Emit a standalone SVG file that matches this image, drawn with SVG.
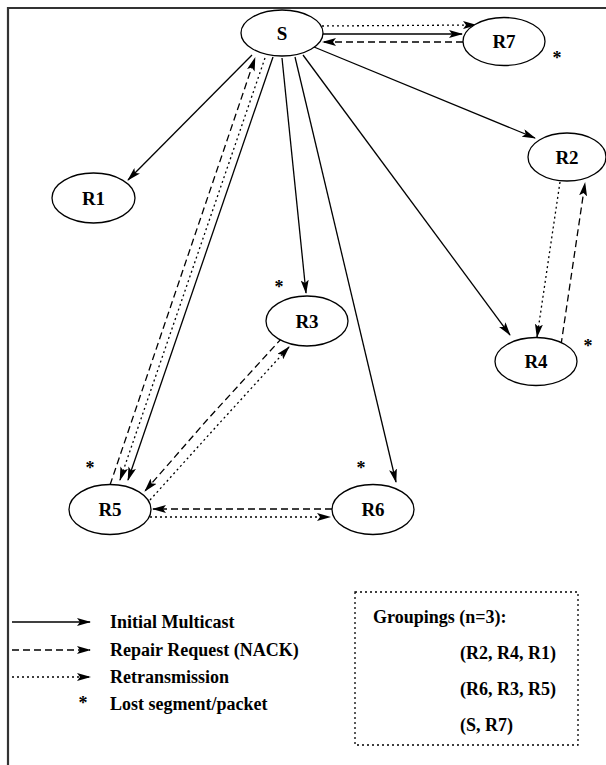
<svg xmlns="http://www.w3.org/2000/svg" width="606" height="765" viewBox="0 0 606 765">
<defs>
<marker id="ah" viewBox="0 0 14 8" refX="13" refY="4" markerWidth="14" markerHeight="8" markerUnits="userSpaceOnUse" orient="auto">
<path d="M0,0 L14,4 L0,8 L3,4 z" fill="#000"/>
</marker>
<style>
.nd{fill:#fff;stroke:#000;stroke-width:1.3}
.lb{font-family:'Liberation Serif','Times New Roman',serif;font-weight:bold;font-size:19px;text-anchor:middle;fill:#000}
.tx{font-family:'Liberation Serif','Times New Roman',serif;font-weight:bold;font-size:18px;fill:#000}
.st{font-family:'Liberation Serif','Times New Roman',serif;font-weight:bold;font-size:18px;fill:#000;text-anchor:middle}
.e{fill:none;stroke:#000;stroke-width:1.3}
.so{marker-end:url(#ah)}
.da{stroke-dasharray:7,4}
.dt{stroke-dasharray:2,3}
</style>
</defs>
<rect width="606" height="765" fill="#fff"/>
<g id="frame">
<path d="M606,8 H8 V765" fill="none" stroke="#333" stroke-width="2.2"/>
</g>
<g id="connectors">
<line class="e so" x1="323" y1="34" x2="462" y2="34"/>
<line class="e dt so" x1="322" y1="26" x2="476" y2="25"/>
<line class="e da so" x1="463" y1="42" x2="323" y2="42"/>
<line class="e so" x1="252" y1="55" x2="128" y2="180"/>
<line class="e so" x1="314" y1="47" x2="535" y2="138"/>
<line class="e so" x1="303" y1="55" x2="510" y2="335"/>
<line class="e so" x1="282" y1="58" x2="306" y2="293"/>
<line class="e so" x1="295" y1="57" x2="396" y2="482"/>
<line class="e so" x1="273" y1="57" x2="128" y2="480"/>
<line class="e da so" x1="110" y1="485" x2="255" y2="58"/>
<line class="e dt so" x1="265" y1="58" x2="120" y2="480"/>
<path class="e da so" d="M282,338 L207,420 L145,491"/>
<path class="e dt so" d="M150,500 L215,428 L289,347"/>
<line class="e da so" x1="332" y1="509" x2="153" y2="509"/>
<line class="e dt so" x1="150" y1="517" x2="330" y2="517"/>
<line class="e dt so" x1="560" y1="182" x2="537" y2="337"/>
<line class="e da so" x1="561" y1="345" x2="585" y2="183"/>
</g>
<g id="S"><ellipse class="nd" cx="282" cy="33" rx="41" ry="23"/><text class="lb" x="282" y="40">S</text></g>
<g id="R7"><ellipse class="nd" cx="504" cy="41.5" rx="41" ry="24"/><text class="lb" x="504" y="48">R7</text></g>
<g id="R1"><ellipse class="nd" cx="93.5" cy="198" rx="41.5" ry="25"/><text class="lb" x="93.5" y="205">R1</text></g>
<g id="R2"><ellipse class="nd" cx="567" cy="157" rx="39" ry="24"/><text class="lb" x="567" y="164">R2</text></g>
<g id="R3"><ellipse class="nd" cx="307" cy="321" rx="41" ry="25"/><text class="lb" x="307" y="328">R3</text></g>
<g id="R4"><ellipse class="nd" cx="536" cy="361.5" rx="41" ry="24"/><text class="lb" x="536" y="368">R4</text></g>
<g id="R5"><ellipse class="nd" cx="110" cy="509.5" rx="41" ry="25"/><text class="lb" x="110" y="516">R5</text></g>
<g id="R6"><ellipse class="nd" cx="373" cy="509.5" rx="41" ry="25"/><text class="lb" x="373" y="516">R6</text></g>
<g id="stars">
<text class="st" x="557" y="64">*</text>
<text class="st" x="588" y="352">*</text>
<text class="st" x="279" y="293">*</text>
<text class="st" x="90" y="474">*</text>
<text class="st" x="361" y="474">*</text>
</g>
<g id="legend">
<line class="e so" x1="12" y1="622" x2="90" y2="622"/>
<line class="e da so" x1="12" y1="650" x2="90" y2="650"/>
<line class="e dt so" x1="12" y1="677" x2="90" y2="677"/>
<text class="st" x="83" y="709">*</text>
<text class="tx" x="110" y="628">Initial Multicast</text>
<text class="tx" x="110" y="656">Repair Request (NACK)</text>
<text class="tx" x="110" y="683">Retransmission</text>
<text class="tx" x="110" y="710">Lost segment/packet</text>
</g>
<g id="groupings">
<rect x="355" y="592" width="223" height="153" fill="none" stroke="#000" stroke-width="1.3" stroke-dasharray="2,3"/>
<text class="tx" x="373" y="623">Groupings (n=3):</text>
<text class="tx" x="460" y="659">(R2, R4, R1)</text>
<text class="tx" x="460" y="695">(R6, R3, R5)</text>
<text class="tx" x="460" y="731">(S, R7)</text>
</g>
</svg>
